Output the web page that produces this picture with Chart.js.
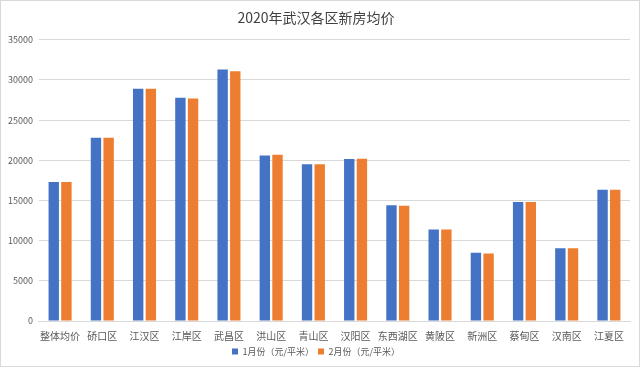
<!DOCTYPE html>
<html>
<head>
<meta charset="utf-8">
<script src="https://cdn.jsdelivr.net/npm/chart.js@4/dist/chart.umd.min.js"></script>
<style>
    html, body { margin: 0; padding: 0; background: #fff; }
    #wrap { width: 640px; height: 367px; position: relative; box-sizing: border-box; border: 1px solid #d9d9d9; }
</style>
</head>
<body>
<div id="wrap"><canvas id="priceChart"></canvas></div>
<script>
// 2020年武汉各区新房均价
const districts = ['整体均价', '硚口区', '江汉区', '江岸区', '武昌区', '洪山区', '青山区', '汉阳区', '东西湖区', '黄陂区', '新洲区', '蔡甸区', '汉南区', '江夏区'];
const janPrices = [17300, 22800, 28900, 27800, 31300, 20600, 19500, 20150, 14400, 11400, 8480, 14800, 9060, 16350];
const febPrices = [17300, 22800, 28900, 27700, 31100, 20700, 19500, 20200, 14330, 11400, 8400, 14800, 9060, 16350];
const yTicks = [0, 5000, 10000, 15000, 20000, 25000, 30000, 35000];

document.addEventListener('DOMContentLoaded', function() {
    Chart.defaults.font.family = "'Noto Sans CJK SC', 'Noto Sans', sans-serif";
    Chart.defaults.color = '#595959';

    const ctx = document.getElementById('priceChart');
    new Chart(ctx, {
        type: 'bar',
        data: {
            labels: districts,
            datasets: [{
                label: '1月份（元/平米）',
                data: janPrices,
                backgroundColor: '#4472C4',
                barPercentage: 0.82,
                categoryPercentage: 0.6
            }, {
                label: '2月份（元/平米）',
                data: febPrices,
                backgroundColor: '#ED7D31',
                barPercentage: 0.82,
                categoryPercentage: 0.6
            }]
        },
        options: {
            responsive: true,
            maintainAspectRatio: false,
            animation: false,
            layout: { padding: { left: 1, right: 9, top: 4, bottom: 0 } },
            plugins: {
                title: {
                    display: true,
                    text: '2020年武汉各区新房均价',
                    color: '#404040',
                    font: { size: 14, weight: 'normal' },
                    padding: { top: 4, bottom: 14 }
                },
                legend: {
                    position: 'bottom',
                    labels: {
                        boxWidth: 6,
                        boxHeight: 6,
                        padding: 4,
                        font: { size: 9 }
                    }
                },
                tooltip: { enabled: false }
            },
            scales: {
                x: {
                    grid: { display: false },
                    border: { color: '#d9d9d9' },
                    ticks: { font: { size: 10 }, maxRotation: 0, autoSkip: false, padding: 1 }
                },
                y: {
                    min: 0,
                    max: 35000,
                    afterBuildTicks: function(axis) {
                        axis.ticks = yTicks.map(function(v) { return { value: v }; });
                    },
                    grid: { color: '#d9d9d9', drawTicks: false },
                    border: { display: false },
                    ticks: {
                        font: { size: 9 },
                        padding: 6,
                        callback: function(val) { return String(val); }
                    }
                }
            }
        }
    });
});
</script>
</body>
</html>
